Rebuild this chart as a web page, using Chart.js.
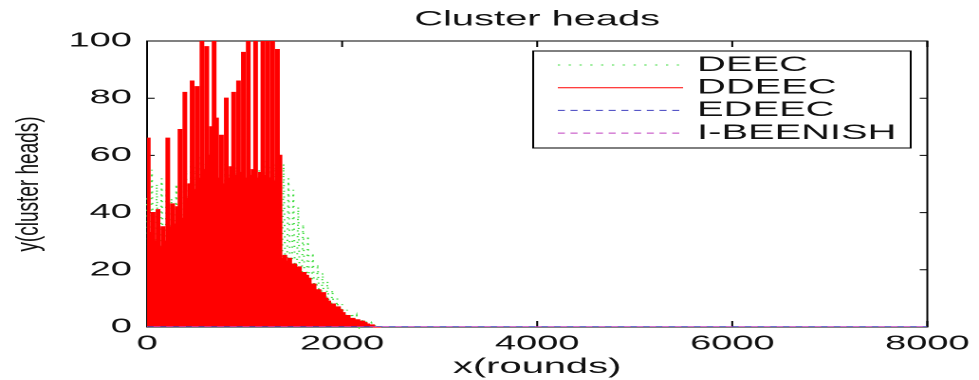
<!DOCTYPE html>
<html>
<head>
<meta charset="utf-8">
<script src="https://cdn.jsdelivr.net/npm/chart.js@4.4.1/dist/chart.umd.min.js"></script>
<style>
  html, body { margin: 0; padding: 0; background: #fff; overflow: hidden; }
  #wrap { width: 516px; height: 380px; transform: scale(1.8973, 1); transform-origin: 0 0; }
</style>
</head>
<body>
<div id="wrap"><canvas id="chart" width="516" height="380"></canvas></div>
<script>
const chartTitle = 'Cluster heads';
const xTitle = 'x(rounds)';
const yTitle = 'y(cluster heads)';
const seriesNames = ['DEEC', 'DDEEC', 'EDEEC', 'I-BEENISH'];

const xTicks = [0, 2000, 4000, 6000, 8000];
const yTicks = [0, 20, 40, 60, 80, 100];

const rounds = [0, 25, 50, 75, 100, 125, 150, 175, 200, 225,
  250, 275, 300, 325, 350, 375, 400, 425, 450, 475,
  500, 525, 550, 575, 600, 625, 650, 675, 700, 725,
  750, 775, 800, 825, 850, 875, 900, 925, 950, 975,
  1000, 1025, 1050, 1075, 1100, 1125, 1150, 1175, 1200, 1225,
  1250, 1275, 1300, 1325, 1350, 1375, 1400, 1425, 1450, 1475,
  1500, 1525, 1550, 1575, 1600, 1625, 1650, 1675, 1700, 1725,
  1750, 1775, 1800, 1825, 1850, 1875, 1900, 1925, 1950, 1975,
  2000, 2025, 2050, 2075, 2100, 2125, 2150, 2175, 2200, 2225,
  2250, 2275, 2300, 2325, 2350, 2375, 2400];

const deec = [45, 2, 55, 1, 50, 3, 52, 1, 48, 2,
  45, 1, 50, 2, 52, 1, 55, 2, 58, 1,
  56, 2, 60, 1, 57, 2, 62, 1, 58, 2,
  55, 1, 57, 2, 54, 1, 56, 2, 55, 1,
  58, 2, 56, 1, 57, 2, 55, 1, 58, 2,
  56, 1, 57, 2, 58, 1, 57, 2, 52, 1,
  48, 2, 42, 1, 36, 2, 32, 1, 26, 2,
  22, 1, 19, 2, 16, 1, 13, 1, 10, 0,
  8, 1, 6, 0, 5, 1, 4, 0, 3, 0,
  2, 0, 1.5, 0, 1, 0, 0];

const ddeec = [66, 33, 40, 30, 41, 28, 35, 30, 66, 35,
  43, 36, 42, 69, 38, 82, 45, 50, 86, 48,
  84, 52, 100, 55, 98, 60, 70, 100, 73, 52,
  67, 50, 80, 52, 56, 82, 53, 86, 54, 96,
  52, 100, 53, 55, 100, 52, 54, 100, 53, 100,
  52, 100, 51, 97, 60, 24, 25, 23, 24, 22,
  22, 21, 21, 19, 19, 18, 17, 15, 15, 13,
  13, 12, 12, 10, 9, 8, 8, 7, 7, 6,
  5, 4, 4, 3, 3, 2.5, 2.5, 2, 2, 1.5,
  1, 0.7, 0.7, 0, 0, 0, 0];

// the two other protocols stay at zero over the whole run
const roundsFull = [0, 8000];
const edeec = [0, 0];
const ibeenish = [0, 0];

const fontFamily = "'Liberation Sans', Arial, sans-serif";
const textColor = '#111';

function toPoints(xs, ys) {
  return xs.map((x, i) => ({ x: x, y: ys[i] }));
}

const framePlugin = {
  id: 'frame',
  beforeDatasetsDraw(chart) {
    const { ctx, chartArea: a, scales: { x, y } } = chart;
    ctx.save();
    ctx.strokeStyle = '#000';
    ctx.lineWidth = 1;
    ctx.strokeRect(a.left, a.top, a.right - a.left, a.bottom - a.top);
    ctx.beginPath();
    x.ticks.forEach(t => {
      const px = x.getPixelForValue(t.value);
      ctx.moveTo(px, a.bottom); ctx.lineTo(px, a.bottom - 6);
      ctx.moveTo(px, a.top); ctx.lineTo(px, a.top + 6);
    });
    y.ticks.forEach(t => {
      const py = y.getPixelForValue(t.value);
      ctx.moveTo(a.left, py); ctx.lineTo(a.left + 4, py);
      ctx.moveTo(a.right, py); ctx.lineTo(a.right - 4, py);
    });
    ctx.stroke();
    ctx.restore();
  },
  afterDraw(chart) {
    const { ctx, chartArea: a } = chart;
    ctx.save();
    ctx.translate(15.8, (a.top + a.bottom) / 2);
    ctx.rotate(-Math.PI / 2);
    ctx.scale(1, 0.85);
    ctx.font = '19px ' + fontFamily;
    ctx.fillStyle = textColor;
    ctx.textAlign = 'center';
    ctx.textBaseline = 'middle';
    ctx.fillText(yTitle, 0, 0);
    ctx.restore();
  }
};

const boxLegend = {
  id: 'boxLegend',
  afterDatasetsDraw(chart) {
    const ctx = chart.ctx;
    ctx.save();
    ctx.fillStyle = '#fff';
    ctx.fillRect(281, 51, 199, 97);
    ctx.strokeStyle = '#000';
    ctx.lineWidth = 1;
    ctx.strokeRect(281, 51, 199, 97);
    chart.data.datasets.forEach((ds, i) => {
      const cy = 65 + i * 22.7;
      ctx.strokeStyle = ds.borderColor;
      ctx.lineWidth = 1;
      ctx.setLineDash(ds.borderDash || []);
      ctx.beginPath();
      ctx.moveTo(294, cy);
      ctx.lineTo(360, cy);
      ctx.stroke();
      ctx.setLineDash([]);
      ctx.fillStyle = textColor;
      ctx.font = '21px ' + fontFamily;
      ctx.textAlign = 'left';
      ctx.textBaseline = 'middle';
      ctx.fillText(ds.label, 367.4, cy);
    });
    ctx.restore();
  }
};

new Chart(document.getElementById('chart'), {
  type: 'line',
  data: {
    datasets: [
      { label: seriesNames[0], data: toPoints(rounds, deec), borderColor: '#44dd44', borderWidth: 1,
        borderDash: [1.2, 4.5], order: 4, clip: { left: 2, top: 0, right: 0, bottom: 2 } },
      { label: seriesNames[1], data: toPoints(rounds, ddeec), borderColor: '#ff0000', borderWidth: 1.2,
        backgroundColor: '#ff0000', fill: 'origin', stepped: true,
        order: 3, clip: { left: 2, top: 0, right: 0, bottom: 2 } },
      { label: seriesNames[2], data: toPoints(roundsFull, edeec), borderColor: '#4040c0', borderWidth: 1.5,
        borderDash: [3.7, 3], order: 2 },
      { label: seriesNames[3], data: toPoints(roundsFull, ibeenish), borderColor: '#c040c0', borderWidth: 1.5,
        borderDash: [3.7, 3], borderDashOffset: 3.3, order: 1 }
    ]
  },
  options: {
    responsive: false,
    animation: false,
    devicePixelRatio: 2,
    elements: { point: { radius: 0 }, line: { tension: 0 } },
    layout: { padding: { left: 0, right: 24.3, top: 0, bottom: 0 } },
    plugins: {
      legend: { display: false },
      tooltip: { enabled: false },
      title: {
        display: true, text: chartTitle, fullSize: false, color: textColor,
        font: { family: fontFamily, size: 21, weight: 'normal' },
        padding: { top: 7, bottom: 8.8 }
      }
    },
    scales: {
      x: {
        type: 'linear', min: 0, max: 8000,
        afterBuildTicks: s => { s.ticks = xTicks.map(v => ({ value: v })); },
        afterFit: s => { s.height = 53; },
        grid: { display: false, drawTicks: false }, border: { display: false },
        ticks: { padding: 5, color: textColor, maxRotation: 0, font: { family: fontFamily, size: 20 }, callback: v => String(v) },
        title: { display: true, text: xTitle, color: textColor, font: { family: fontFamily, size: 21 }, padding: { top: 2, bottom: 0 } }
      },
      y: {
        type: 'linear', min: 0, max: 100,
        afterBuildTicks: s => { s.ticks = yTicks.map(v => ({ value: v })); },
        afterFit: s => { s.width = 77.5; },
        grid: { display: false, drawTicks: false }, border: { display: false },
        ticks: { padding: 8, color: textColor, font: { family: fontFamily, size: 20 }, callback: v => String(v) }
      }
    }
  },
  plugins: [framePlugin, boxLegend]
});
</script>
</body>
</html>
